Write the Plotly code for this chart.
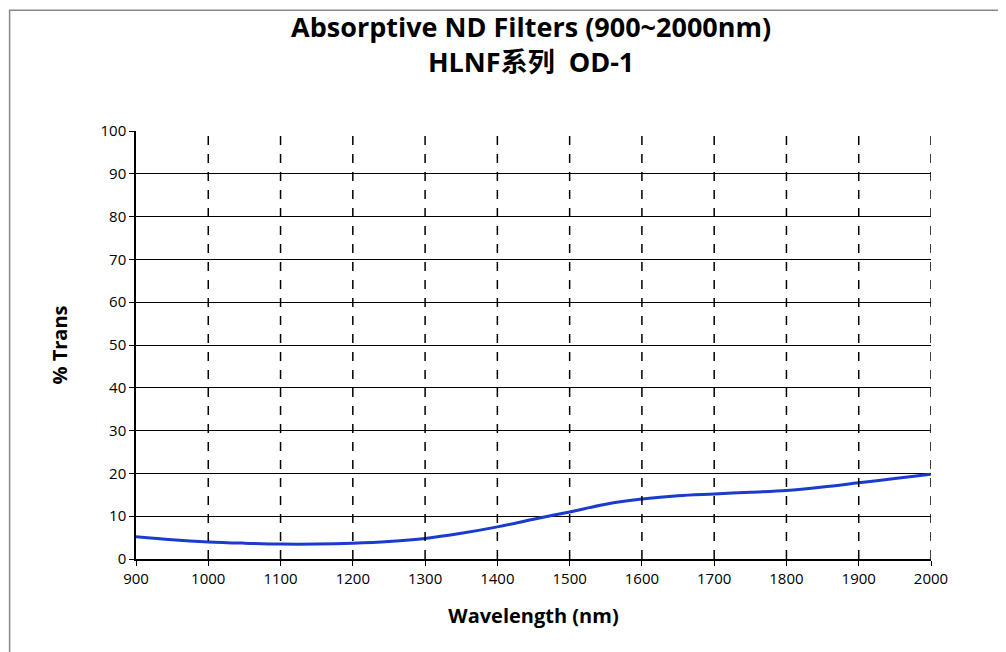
import plotly.graph_objects as go

# Transmission curve
wavelength = [900, 950, 1000, 1050, 1100, 1150, 1200, 1250, 1300, 1350, 1400,
              1450, 1500, 1550, 1600, 1650, 1700, 1750, 1800, 1850, 1900, 1950, 2000]
trans = [5.2, 4.5, 4.0, 3.7, 3.5, 3.5, 3.7, 4.1, 4.8, 6.0, 7.5,
         9.3, 11.0, 12.8, 14.0, 14.8, 15.2, 15.6, 16.0, 16.8, 17.8, 18.8, 19.8]

x_ticks = list(range(900, 2001, 100))
y_ticks = list(range(0, 101, 10))

font = "Open Sans"

fig = go.Figure()
fig.add_trace(go.Scatter(x=wavelength, y=trans, mode="lines",
                         line=dict(color="#1a3ccc", width=3, shape="spline"),
                         showlegend=False))

# dashed vertical gridlines
for xv in x_ticks[1:]:
    fig.add_shape(type="line", x0=xv, x1=xv, y0=0, y1=100, xref="x", yref="y",
                  line=dict(color="black", width=1.5, dash="dash"))

fig.update_layout(
    width=1006, height=652,
    margin=dict(l=128, r=83, t=123, b=101, autoexpand=False),
    paper_bgcolor="white", plot_bgcolor="white",
    title=dict(text="<b>Absorptive ND Filters (900~2000nm)<br>HLNF系列  OD-1</b>",
               x=0.52, xanchor="center", y=0.955, yanchor="top",
               font=dict(family=font + ", Noto Sans CJK SC", size=27, color="black")),
    xaxis=dict(range=[900, 2000], tickvals=x_ticks, showgrid=False, automargin=False,
               showline=True, linecolor="black", linewidth=1.5,
               ticks="outside", ticklen=5, tickcolor="black",
               tickfont=dict(family=font, size=15, color="black"),
               title=dict(text="<b>Wavelength (nm)</b>", standoff=22,
                          font=dict(family=font, size=20, color="black"))),
    yaxis=dict(range=[0, 100], tickvals=y_ticks, showgrid=True, automargin=False,
               gridcolor="black", gridwidth=1.2,
               showline=True, linecolor="black", linewidth=1.5,
               ticks="outside", ticklen=5, tickcolor="black",
               tickfont=dict(family=font, size=15, color="black"),
               title=dict(text="<b>% Trans</b>", standoff=28,
                          font=dict(family=font, size=20, color="black"))),
)

# outer grey frame
fig.add_shape(type="rect", xref="paper", yref="paper", x0=-0.159, x1=1.1,
              y0=-0.23, y1=1.282, line=dict(color="#888888", width=1.5))

fig.write_html("out.html")
